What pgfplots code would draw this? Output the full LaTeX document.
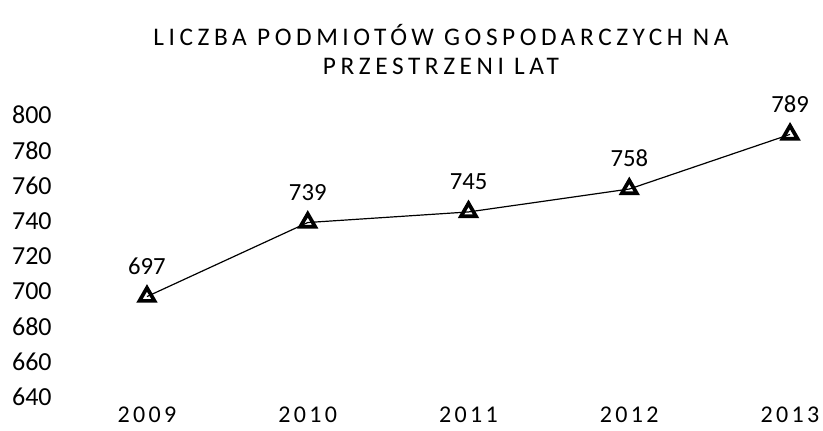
\documentclass[border=0pt]{standalone}
\usepackage{fontspec}
\setmainfont{Carlito}
\newfontfamily\spaced[LetterSpace=18]{Carlito}
\newfontfamily\xspaced[LetterSpace=14]{Carlito}
\usepackage{pgfplots}
\pgfplotsset{compat=1.18}
\begin{document}
\begin{tikzpicture}
\useasboundingbox (-49.95pt,-24.75pt) rectangle (567.3pt,297.75pt);
\begin{axis}[
  scale only axis, width=566.7pt, height=211.5pt,
  xmin=-0.5, xmax=4.2, ymin=640, ymax=800,
  axis line style={draw=none}, tick style={draw=none},
  xtick={0,1,2,3,4},
  xticklabels={{\xspaced 2009},{\xspaced 2010},{\xspaced 2011},{\xspaced 2012},{\xspaced 2013}},
  ytick={640,660,680,700,720,740,760,780,800},
  /pgf/number format/assume math mode=true,
  yticklabel style={anchor=east, inner sep=0pt, xshift=-11pt, font=\fontsize{19.5}{20}\selectfont},
  xticklabel style={anchor=north, inner sep=0pt, yshift=-7pt, font=\fontsize{18}{18}\selectfont},
  nodes near coords,
  nodes near coords style={anchor=south, inner sep=0pt, yshift=15pt, font=\fontsize{18.5}{19}\selectfont, text=black},
  title={LICZBA PODMIOTÓW GOSPODARCZYCH NA\\[4pt]PRZESTRZENI LAT},
  title style={at={(axis description cs:0.4955,1.205)}, anchor=center, align=center, font=\spaced\fontsize{19}{17.5}\selectfont},
]
\addplot[black, line width=0.9pt, mark=triangle, mark size=6.5pt,
  mark options={fill=white, draw=black, line width=2.8pt}]
  coordinates {(0,697) (1,739) (2,745) (3,758) (4,789)};
\end{axis}
\end{tikzpicture}
\end{document}
